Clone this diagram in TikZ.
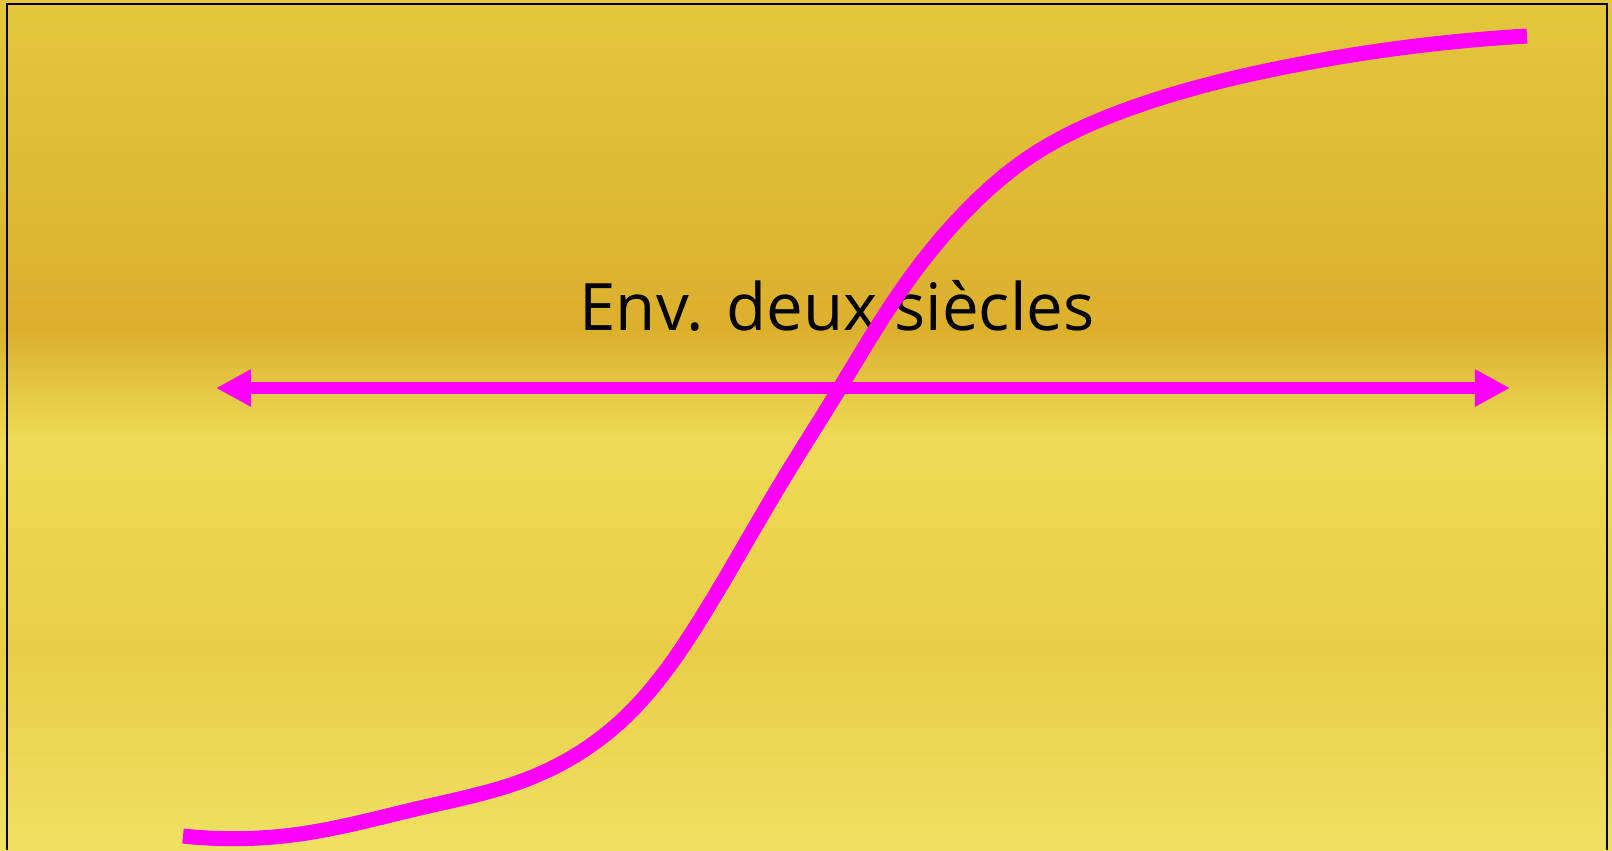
\documentclass[tikz,border=0pt]{standalone}
\usepackage{fontspec}
\setmainfont{Open Sans}
\usepackage{xcolor}
\usetikzlibrary{arrows.meta, hobby}

\definecolor{paperTop}{HTML}{E4C73C}
\definecolor{paperMid}{HTML}{DBB02C}
\definecolor{paperLow}{HTML}{EEDB55}
\definecolor{paperBot}{HTML}{F0E062}
\definecolor{paperBand}{HTML}{E8CE46}
\definecolor{growth}{HTML}{FF00FF}

\begin{document}
\begin{tikzpicture}[x=0.01cm, y=-0.01cm, >=Stealth, use Hobby shortcut,
    growth curve/.style={line width=0.15cm, growth, line cap=butt, line join=round},
    span arrow/.style={line width=0.12cm, growth,
      {Triangle[length=0.35cm, width=0.35cm]}-{Triangle[length=0.35cm, width=0.35cm]}},
    span label/.style={font=\fontsize{18.6}{22}\selectfont, text=black, inner sep=0pt}]
    \useasboundingbox (0,0) rectangle (1612,850);

    % Paper background
    \shade[top color=paperTop, bottom color=paperMid]   (0,0)   rectangle (1612,330);
    \shade[top color=paperMid, bottom color=paperLow]   (0,330) rectangle (1612,440);
    \shade[top color=paperLow, bottom color=paperBand]  (0,440) rectangle (1612,650);
    \shade[top color=paperBand, bottom color=paperBot]  (0,650) rectangle (1612,850);
    \draw[line width=0.025cm] (7,850) -- (7,4) -- (1607,4) -- (1607,850);

    % Ends of the span and of the curve
    \coordinate (spanL)  at (216,388);
    \coordinate (spanR)  at (1510,388);
    \coordinate (curveA) at (183,836);
    \coordinate (curveB) at (1527,36);

    % Label
    \node[span label, anchor=base] (label) at (837,330) {Env. deux siècles};

    % Span and curve
    \draw[span arrow] (spanL) -- (spanR);
    \draw[growth curve] (curveA) .. (300,834) .. (420,808) .. (530,778)
      .. (620,722) .. (700,620) .. (781,483) .. (838,391) .. (900,292)
      .. (966,211) .. (1028,158) .. (1131,108) .. (1285,67) .. (curveB);
\end{tikzpicture}
\end{document}
